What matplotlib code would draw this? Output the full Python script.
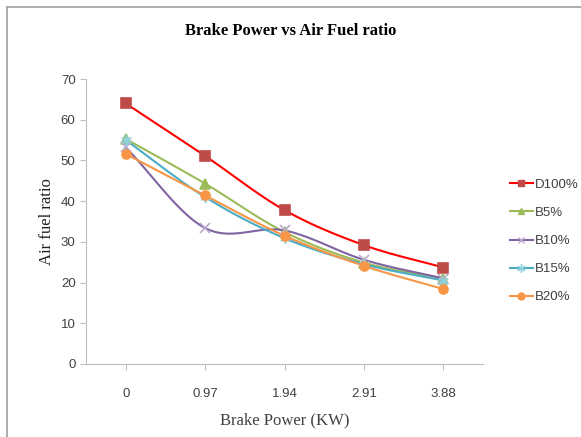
import numpy as np
import matplotlib
matplotlib.use("Agg")
from matplotlib import pyplot as plt

plt.rcParams['font.family'] = ['Liberation Sans', 'DejaVu Sans']

# dados
potencia = ["0", "0.97", "1.94", "2.91", "3.88"]
d100 = [64.0, 51.1, 37.8, 29.2, 23.7]
b5 = [55.3, 44.3, 32.4, 24.9, 21.0]
b10 = [53.2, 33.4, 32.8, 25.6, 21.0]
b15 = [55.0, 41.0, 30.9, 24.5, 20.5]
b20 = [51.6, 41.4, 31.5, 24.1, 18.4]


def suavizar(x, y, n=30):
    # curva Catmull-Rom passando pelos pontos (linha suavizada tipo Excel)
    x = np.asarray(x, float)
    y = np.asarray(y, float)
    px = np.concatenate([[2 * x[0] - x[1]], x, [2 * x[-1] - x[-2]]])
    py = np.concatenate([[2 * y[0] - y[1]], y, [2 * y[-1] - y[-2]]])
    xs, ys = [], []
    t = np.linspace(0, 1, n)
    for i in range(1, len(px) - 2):
        for p, out in ((px, xs), (py, ys)):
            p0, p1, p2, p3 = p[i - 1], p[i], p[i + 1], p[i + 2]
            out.extend(0.5 * (2 * p1 + (-p0 + p2) * t
                              + (2 * p0 - 5 * p1 + 4 * p2 - p3) * t ** 2
                              + (-p0 + 3 * p1 - 3 * p2 + p3) * t ** 3))
    return np.array(xs), np.array(ys)


series = [
    ("D100%", d100, "#FF0000", "s", "#BE4B48", 6.5),
    ("B5%", b5, "#9BBB59", "^", "#9BBB59", 6.5),
    ("B10%", b10, "#8064A2", "x", "#B9A9D0", 6.5),
    ("B15%", b15, "#4BACC6", (6, 2, 0), "#8FD0E0", 7.5),
    ("B20%", b20, "#F79646", "o", "#F79646", 6.5),
]

fig = plt.figure(figsize=(5.81, 4.37), dpi=100)
ax = fig.add_axes([86 / 581, 73 / 437, 397 / 581, 285 / 437])

xpos = np.arange(len(potencia))
for nome, vals, cor, mk, mcor, ms in series:
    sx, sy = suavizar(xpos, vals)
    ax.plot(sx, sy, color=cor, lw=1.5, zorder=2)
    ax.plot(xpos, vals, ls="none", marker=mk, ms=ms, color=mcor,
            markerfacecolor=mcor, markeredgecolor=mcor, mew=1.2, zorder=3)
    # item da legenda
    ax.plot([], [], color=cor, lw=1.5, marker=mk, ms=ms - 1.5, markerfacecolor=mcor,
            markeredgecolor=mcor, label=nome)

ax.set_xlim(-0.5, 4.5)
ax.set_ylim(0, 70)
ax.set_yticks(range(0, 71, 10))
ax.set_xticks(xpos)
ax.set_xticklabels(potencia)

for s in ["top", "right"]:
    ax.spines[s].set_visible(False)
for s in ["left", "bottom"]:
    ax.spines[s].set_color("#BFBFBF")
ax.tick_params(axis="both", color="#BFBFBF", length=4, labelsize=9.5,
               labelcolor="#404040", direction="out")
ax.tick_params(axis="x", pad=13)

ax.set_xlabel("Brake Power (KW)", family="Liberation Serif", fontsize=12,
              color="#404040", labelpad=9)
ax.set_ylabel("Air fuel ratio", family="Liberation Serif", fontsize=12,
              color="#222222", labelpad=4)
fig.text(0.5, 0.93, "Brake Power vs Air Fuel ratio", ha="center", va="center",
         family="Liberation Serif", fontweight="bold", fontsize=12)

leg = fig.legend(loc="center left", bbox_to_anchor=(503 / 581, 1 - 241 / 437),
                 frameon=False, fontsize=9.5, handlelength=1.8, labelspacing=1.2,
                 handletextpad=0.15, borderpad=0)
for t in leg.get_texts():
    t.set_color("#404040")

# moldura da figura
fig.add_artist(plt.Line2D([7 / 581, 7 / 581], [0, 1 - 7 / 437], color="#A0A0A0", lw=1.2))
fig.add_artist(plt.Line2D([7 / 581, 1], [1 - 7 / 437, 1 - 7 / 437], color="#A0A0A0", lw=1.2))

fig.savefig("out.png", dpi=100)
